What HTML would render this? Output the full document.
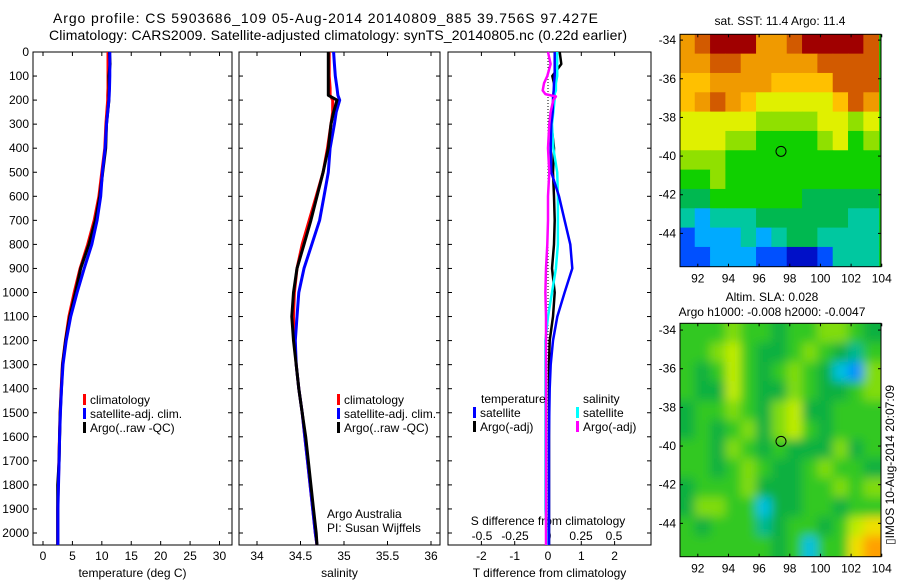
<!DOCTYPE html>
<html><head><meta charset="utf-8">
<style>
body{margin:0;background:#fff;}
svg{display:block;font-family:"Liberation Sans",Arial,sans-serif;}
text{fill:#000;}
</style></head>
<body>
<svg id="fig" width="900" height="580" viewBox="0 0 900 580" xmlns="http://www.w3.org/2000/svg">
<rect width="900" height="580" fill="#fff"/>
<text x="53" y="23" font-size="14" textLength="545" lengthAdjust="spacing">Argo profile: CS 5903686_109 05-Aug-2014 20140809_885 39.756S 97.427E</text>
<text x="49" y="40" font-size="14" textLength="578" lengthAdjust="spacing">Climatology: CARS2009. Satellite-adjusted climatology: synTS_20140805.nc (0.22d earlier)</text>
<g id="g1"></g>
<g id="g2"></g>
<g id="g3"></g>
<g id="m1"></g>
<g id="m2"></g>
<text x="780" y="25" font-size="12" text-anchor="middle">sat. SST: 11.4 Argo: 11.4</text>
<text x="772" y="301" font-size="12" text-anchor="middle">Altim. SLA: 0.028</text>
<text x="772" y="316" font-size="12" text-anchor="middle">Argo h1000: -0.008 h2000: -0.0047</text>
<text transform="translate(894,465) rotate(-90)" font-size="12" text-anchor="middle">▯IMOS 10-Aug-2014 20:07:09</text>
<text x="327" y="518" font-size="12">Argo Australia</text>
<text x="327" y="532" font-size="12">PI: Susan Wijffels</text>
</svg>
<script>
// ---------- data ----------
const depths = [0,50,100,150,180,200,250,300,400,500,600,700,800,900,1000,1100,1200,1300,1400,1500,1600,1700,1800,1900,2000,2050];
const tempClim = [11.05,11.05,11.05,11.05,11.0,11.0,10.85,10.7,10.5,10.0,9.5,8.7,7.6,6.3,5.3,4.4,3.8,3.3,3.1,2.9,2.8,2.7,2.6,2.5,2.5,2.5];
const tempSat  = [11.35,11.35,11.35,11.3,11.25,11.2,11.0,10.8,10.55,10.1,9.8,9.2,8.3,7.0,5.8,4.7,3.95,3.4,3.15,2.95,2.83,2.73,2.63,2.53,2.53,2.53];
const tempArgo = [11.3,11.4,11.2,11.25,11.2,11.2,11.0,10.8,10.65,10.15,9.65,8.9,7.8,6.4,5.5,4.55,3.85,3.33,3.13,2.93,2.83,2.73,2.5,2.5,2.5,2.5];
const salClim  = [34.83,34.83,34.83,34.84,34.84,34.87,34.87,34.85,34.81,34.76,34.68,34.60,34.52,34.46,34.43,34.42,34.43,34.45,34.48,34.52,34.55,34.58,34.61,34.64,34.67,34.69];
const salSat   = [34.88,34.89,34.9,34.92,34.93,34.95,34.91,34.89,34.84,34.82,34.77,34.72,34.63,34.54,34.48,34.46,34.44,34.45,34.48,34.52,34.55,34.58,34.61,34.64,34.67,34.69];
const salArgo  = [34.82,34.82,34.82,34.82,34.82,34.92,34.88,34.85,34.82,34.76,34.69,34.62,34.54,34.46,34.42,34.40,34.42,34.45,34.48,34.52,34.56,34.59,34.62,34.65,34.68,34.69];
const dDepths = [0,50,100,130,160,175,185,200,250,300,400,500,600,700,800,900,1000,1100,1200,1300,1400,1500,1600,1700,1800,1900,2000,2050];
const dTSat  = [0.2,0.2,0.2,0.18,0.17,0.16,0.15,0.15,0.14,0.1,0.08,0.1,0.33,0.5,0.67,0.73,0.5,0.28,0.15,0.08,0.05,0.04,0.03,0.03,0.03,0.03,0.03,0.03];
const dTArgo = [0.35,0.4,0.13,0.18,0.2,0.2,0.18,0.18,0.13,0.1,0.18,0.15,0.18,0.2,0.18,0.12,0.2,0.15,0.05,0.03,0.03,0.03,0.03,0.03,0.03,0.03,0.03,0.03];
const dSSat  = [0.07,0.07,0.07,0.06,0.06,0.05,0.05,0.05,0.04,0.03,0.04,0.07,0.075,0.075,0.075,0.06,0.03,0.0,-0.02,-0.02,-0.02,-0.02,-0.02,-0.02,-0.02,-0.02,-0.01,-0.01];
const dSArgo = [0.0,0.02,-0.005,-0.03,-0.04,-0.02,0.06,0.04,0.02,0.01,0.0,0.01,0.0,0.0,-0.005,-0.015,-0.02,-0.015,-0.015,-0.015,-0.015,-0.015,-0.015,-0.015,-0.015,-0.015,-0.015,-0.015];
const depthTicks = [0,100,200,300,400,500,600,700,800,900,1000,1100,1200,1300,1400,1500,1600,1700,1800,1900,2000];
const tempTicks = [0,5,10,15,20,25,30];
const salTicks = [34,34.5,35,35.5,36];
const salTickLabels = ["34","34.5","35","35.5","36"];
const dTTicks = [-2,-1,0,1,2];
const dSTicks = [-0.5,-0.25,0,0.25,0.5];
const dSTickLabels = ["-0.5","-0.25","0","0.25","0.5"];
const lonTicks = [92,94,96,98,100,102,104];
const latTicks = [-34,-36,-38,-40,-42,-44];
const latTickLabels = ["-34","-36","-38","-40","-42","-44"];
const argoLon = 97.427, argoLat = -39.756;
const sstRows = ["9ABBB99ABBBBA","99AA99999AAAA","8899998888AAA","89A98777778A9","7777766667767","7776655556756","6665555555555","5565555555555","4455555544444","3233344444433","1222323443333","1122211001333"];
const sstPalette = ["#0010c8","#0050ff","#00aaff","#00c8a0","#00b850","#10d000","#90e000","#e0f000","#ffc000","#f09a00","#d25a00","#a00000"];
const slaRows = ["4445443445543","4456433454324","4346434543105","4336433543345","3445435633444","3434535643444","4435434333534","4434543345443","3444533344545","3554413344344","4344423443467","4444443414478"];
const slaPalette = ["#0090ff","#00c0e0","#00b890","#10b040","#30c820","#80dc10","#c0ec00","#f0e000","#ffa000"];
</script>
<script>
const NS="http://www.w3.org/2000/svg";
function mk(parent,tag,attrs){const e=document.createElementNS(NS,tag);for(const k in attrs)e.setAttribute(k,attrs[k]);parent.appendChild(e);return e;}
const yTop=52, yBot=545;
const yD = d => yTop + d*0.2405;

function panel(g,x0,x1,xf,ticks,labels,title,name){
  const box=mk(g,'rect',{x:x0,y:yTop,width:x1-x0,height:yBot-yTop,fill:'none',stroke:'#000','stroke-width':1});
  
  
  ticks.forEach((t,i)=>{
    const x=xf(t);
    mk(g,'line',{x1:x,x2:x,y1:yBot,y2:yBot-4,stroke:'#000'});
    mk(g,'line',{x1:x,x2:x,y1:yTop,y2:yTop+4,stroke:'#000'});
    const tl=mk(g,'text',{x:x,y:yBot+15,'font-size':12,'text-anchor':'middle'});
    tl.textContent=labels[i];
    
    
  });
  depthTicks.forEach(d=>{
    mk(g,'line',{x1:x0,x2:x0+4,y1:yD(d),y2:yD(d),stroke:'#000'});
    mk(g,'line',{x1:x1,x2:x1-4,y1:yD(d),y2:yD(d),stroke:'#000'});
  });
  if(title){
    const tt=mk(g,'text',{x:(x0+x1)/2,y:577,'font-size':12,'text-anchor':'middle'});
    tt.textContent=title;
    
    
  }
}
function line(g,xs,ds,xf,color,name,w){
  const pts=xs.map((v,i)=>xf(v).toFixed(1)+','+yD(ds[i]).toFixed(1)).join(' ');
  const p=mk(g,'polyline',{points:pts,fill:'none',stroke:color,'stroke-width':w||3,'stroke-linejoin':'round'});
  
  
}
function legend(g,x,y,color,label,name){
  mk(g,'rect',{x:x,y:y-10,width:3,height:11,fill:color});
  const t=mk(g,'text',{x:x+7,y:y,'font-size':12});
  t.textContent=label;
  
  
}

const g1=document.getElementById('g1');
const xT = t => 43 + t*5.883;
panel(g1,33,232,xT,tempTicks,tempTicks.map(String),'temperature (deg C)','temperature');
depthTicks.forEach(d=>{
  const t=mk(g1,'text',{x:29,y:yD(d)+4,'font-size':12,'text-anchor':'end'});
  t.textContent=String(d);
  
  
});
line(g1,tempClim,depths,xT,'#ff0000','temp-climatology-line');
line(g1,tempArgo,depths,xT,'#000000','temp-argo-line');
line(g1,tempSat,depths,xT,'#0000ff','temp-satellite-line');
legend(g1,83,404,'#ff0000','climatology','legend-climatology');
legend(g1,83,418,'#0000ff','satellite-adj. clim.','legend-satellite');
legend(g1,83,432,'#000000','Argo(..raw -QC)','legend-argo');

const g2=document.getElementById('g2');
const xS = s => 257 + (s-34)*87;
panel(g2,239,440,xS,salTicks,salTickLabels,'salinity','salinity');
line(g2,salClim,depths,xS,'#ff0000','sal-climatology-line');
line(g2,salSat,depths,xS,'#0000ff','sal-satellite-line');
line(g2,salArgo,depths,xS,'#000000','sal-argo-line');
legend(g2,337,404,'#ff0000','climatology','legend-climatology');
legend(g2,337,418,'#0000ff','satellite-adj. clim.','legend-satellite');
legend(g2,337,432,'#000000','Argo(..raw -QC)','legend-argo');

const g3=document.getElementById('g3');
const xdT = t => 548 + t*33.3;
const xdS = s => 548 + s*132;
panel(g3,448,651,xdT,dTTicks,dTTicks.map(String),'T difference from climatology','t-diff');
dSTicks.forEach((s,i)=>{
  const t=mk(g3,'text',{x:xdS(s),y:540,'font-size':12,'text-anchor':'middle'});
  t.textContent=dSTickLabels[i];
  
  
});
const st=mk(g3,'text',{x:548,y:525,'font-size':12,'text-anchor':'middle'});
st.textContent='S difference from climatology';


mk(g3,'line',{x1:548,x2:548,y1:yTop,y2:yBot,stroke:'#000','stroke-dasharray':'1,2'});
line(g3,dTArgo,dDepths,xdT,'#000000','t-diff-argo-line',2.5);
line(g3,dSSat,dDepths,xdS,'#00ffff','s-diff-satellite-line',2.5);
line(g3,dTSat,dDepths,xdT,'#0000ff','t-diff-satellite-line',2.5);
line(g3,dSArgo,dDepths,xdS,'#ff00ff','s-diff-argo-line',2.5);
const tl3=mk(g3,'text',{x:481,y:403,'font-size':12}); tl3.textContent='temperature';


const sl3=mk(g3,'text',{x:583,y:403,'font-size':12}); sl3.textContent='salinity';


legend(g3,473,417,'#0000ff','satellite','legend-t-satellite');
legend(g3,473,431,'#000000','Argo(-adj)','legend-t-argo');
legend(g3,576,417,'#00ffff','satellite','legend-s-satellite');
legend(g3,576,431,'#ff00ff','Argo(-adj)','legend-s-argo');

function map(g,y0,y1,latTop,rows,pal,blur,name){
  const x0=680, x1=881;
  const lonX = lo => 697.8 + (lo-92)*15.33;
  const latY = la => y0 + (latTop-la)*19.33;
  const defs=mk(g,'defs',{});
  const cid='clip'+name;
  const cp=mk(defs,'clipPath',{id:cid}); mk(cp,'rect',{x:x0,y:y0,width:x1-x0,height:y1-y0});
  let filt='';
  if(blur){const f=mk(defs,'filter',{id:'bl'+name,x:'-5%',y:'-5%',width:'110%',height:'110%'});mk(f,'feGaussianBlur',{stdDeviation:5});filt='url(#bl'+name+')';}
  const cg=mk(g,'g',{'clip-path':'url(#'+cid+')'});
  const ig=mk(cg,'g',blur?{filter:filt}:{});
  mk(ig,'rect',{x:x0-20,y:y0-20,width:x1-x0+40,height:y1-y0+40,fill:pal[parseInt(rows[6][6],16)]});
  rows.forEach((r,i)=>{
    for(let j=0;j<r.length;j++){
      const lv=parseInt(r[j],16);
      const lo=90.8+j, la=latTop-i;
      let cx=lonX(lo), cy=latY(la), w=lonX(lo+1)-cx, h=latY(la-1)-cy;
      if(blur){ if(j==0){cx-=20;w+=20;} if(j==r.length-1){w+=20;} if(i==0){cy-=20;h+=20;} if(i==rows.length-1){h+=20;} }
      const c=mk(ig,'rect',{x:cx,y:cy,width:w+0.5,height:h+0.5,fill:pal[lv]});
      
      
    }
  });
  mk(g,'rect',{x:x0,y:y0,width:x1-x0,height:y1-y0,fill:'none',stroke:'#000'});
  lonTicks.forEach(lo=>{
    const x=lonX(lo);
    mk(g,'line',{x1:x,x2:x,y1:y1,y2:y1-3,stroke:'#000'});
    mk(g,'line',{x1:x,x2:x,y1:y0,y2:y0+3,stroke:'#000'});
    const t=mk(g,'text',{x:x,y:y1+16,'font-size':12,'text-anchor':'middle'});
    t.textContent=String(lo);
    
    
  });
  latTicks.forEach((la,i)=>{
    const y=latY(la);
    mk(g,'line',{x1:x0,x2:x0+3,y1:y,y2:y,stroke:'#000'});
    mk(g,'line',{x1:x1,x2:x1-3,y1:y,y2:y,stroke:'#000'});
    const t=mk(g,'text',{x:x0-4,y:y+4,'font-size':12,'text-anchor':'end'});
    t.textContent=latTickLabels[i];
    
    
  });
  const c=mk(g,'circle',{cx:lonX(argoLon),cy:latY(argoLat),r:5,fill:'none',stroke:'#000','stroke-width':1});
  
  
}
map(document.getElementById('m1'),34.3,266.7,-33.7,sstRows,sstPalette,false,'sst');
map(document.getElementById('m2'),323.3,556.7,-33.65,slaRows,slaPalette,true,'sla');
</script>
</body></html>
